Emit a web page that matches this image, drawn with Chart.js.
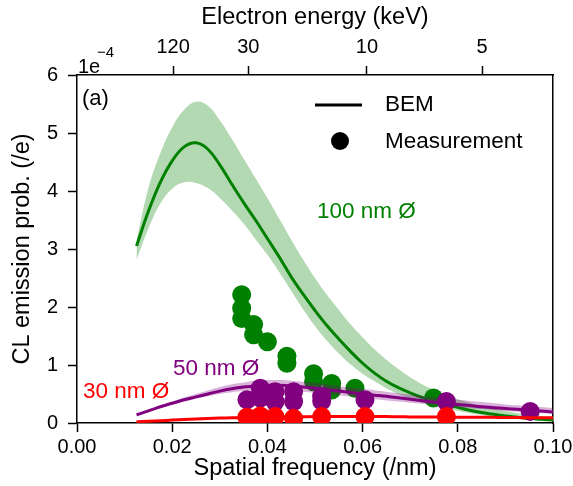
<!DOCTYPE html>
<html>
<head>
<meta charset="utf-8">
<script src="https://cdn.jsdelivr.net/npm/chart.js@4.4.1/dist/chart.umd.min.js"></script>
<style>
  html, body { margin: 0; padding: 0; background: #fff; }
</style>
</head>
<body>
<canvas id="chartCL" width="573" height="486"></canvas>
<script>
// spatial frequency grid of the BEM curves (/nm)
const bemFreq = [0.0125, 0.015, 0.0175, 0.02, 0.0225, 0.025, 0.0275, 0.03, 0.0325, 0.035, 0.0375, 0.04,
  0.0425, 0.045, 0.0475, 0.05, 0.0525, 0.055, 0.0575, 0.06, 0.0625, 0.065, 0.0675, 0.07,
  0.0725, 0.075, 0.0775, 0.08, 0.0825, 0.085, 0.0875, 0.09, 0.0925, 0.095, 0.0975, 0.1];

// BEM, 100 nm (x 1e-4)
const bem100 = [3.05, 3.65, 4.15, 4.52, 4.76, 4.83, 4.72, 4.45, 4.12, 3.8, 3.5, 3.18,
  2.86, 2.52, 2.22, 1.94, 1.68, 1.45, 1.23, 1.03, 0.86, 0.72, 0.61, 0.52,
  0.44, 0.38, 0.32, 0.27, 0.22, 0.18, 0.15, 0.12, 0.1, 0.08, 0.065, 0.05];
const bem100Hi = [3.15, 4.05, 4.65, 5.1, 5.4, 5.54, 5.47, 5.22, 4.9, 4.56, 4.22, 3.88,
  3.52, 3.16, 2.82, 2.5, 2.21, 1.95, 1.7, 1.48, 1.27, 1.09, 0.93, 0.79,
  0.67, 0.57, 0.48, 0.41, 0.35, 0.29, 0.25, 0.21, 0.17, 0.15, 0.12, 0.1];
const bem100Lo = [2.81, 3.35, 3.78, 4.04, 4.15, 4.14, 4.05, 3.88, 3.67, 3.44, 3.17, 2.9,
  2.6, 2.28, 1.96, 1.67, 1.42, 1.2, 1.01, 0.85, 0.72, 0.6, 0.5, 0.42,
  0.35, 0.3, 0.25, 0.21, 0.17, 0.14, 0.11, 0.09, 0.075, 0.06, 0.05, 0.04];

// BEM, 50 nm
const bem50 = [0.14, 0.21, 0.28, 0.34, 0.4, 0.45, 0.5, 0.55, 0.59, 0.62, 0.64, 0.65,
  0.65, 0.64, 0.62, 0.6, 0.575, 0.55, 0.525, 0.5, 0.48, 0.46, 0.435, 0.41,
  0.385, 0.36, 0.34, 0.32, 0.3, 0.28, 0.265, 0.25, 0.235, 0.22, 0.205, 0.19];
const bem50Hi = [0.14, 0.22, 0.3, 0.37, 0.44, 0.5, 0.56, 0.62, 0.67, 0.7, 0.73, 0.74,
  0.74, 0.73, 0.71, 0.69, 0.665, 0.64, 0.615, 0.59, 0.565, 0.54, 0.515, 0.49,
  0.465, 0.44, 0.42, 0.4, 0.38, 0.36, 0.34, 0.32, 0.305, 0.29, 0.275, 0.26];
const bem50Lo = [0.14, 0.2, 0.26, 0.32, 0.37, 0.42, 0.46, 0.5, 0.53, 0.55, 0.565, 0.57,
  0.57, 0.56, 0.54, 0.52, 0.5, 0.48, 0.455, 0.43, 0.41, 0.39, 0.37, 0.35,
  0.33, 0.31, 0.29, 0.27, 0.255, 0.24, 0.225, 0.21, 0.195, 0.18, 0.17, 0.16];

// BEM, 30 nm
const bem30 = [0.02, 0.03, 0.04, 0.05, 0.06, 0.07, 0.078, 0.085, 0.09, 0.095, 0.098, 0.1,
  0.103, 0.105, 0.108, 0.11, 0.11, 0.11, 0.11, 0.11, 0.11, 0.11, 0.108, 0.105,
  0.105, 0.105, 0.102, 0.1, 0.1, 0.1, 0.098, 0.095, 0.093, 0.09, 0.09, 0.09];
const bem30Hi = [0.03, 0.04, 0.05, 0.062, 0.074, 0.085, 0.094, 0.1, 0.105, 0.11, 0.113, 0.116,
  0.118, 0.12, 0.123, 0.125, 0.125, 0.125, 0.125, 0.125, 0.125, 0.125, 0.123, 0.12,
  0.12, 0.12, 0.117, 0.115, 0.115, 0.115, 0.113, 0.11, 0.108, 0.105, 0.105, 0.105];
const bem30Lo = [0.01, 0.02, 0.03, 0.04, 0.048, 0.056, 0.064, 0.07, 0.075, 0.08, 0.083, 0.085,
  0.088, 0.09, 0.093, 0.095, 0.095, 0.095, 0.095, 0.095, 0.095, 0.095, 0.093, 0.09,
  0.09, 0.09, 0.087, 0.085, 0.085, 0.085, 0.083, 0.08, 0.078, 0.075, 0.075, 0.075];

// measurements
const meas100X = [0.0346, 0.0346, 0.0346, 0.0371, 0.0371, 0.04, 0.0441, 0.0441, 0.0497, 0.0497, 0.0535, 0.0535, 0.0584, 0.0749];
const meas100Y = [2.21, 1.98, 1.8, 1.7, 1.52, 1.4, 1.15, 1.03, 0.85, 0.71, 0.68, 0.57, 0.6, 0.43];
const meas50X = [0.0357, 0.0385, 0.0385, 0.0416, 0.0416, 0.0455, 0.0455, 0.0514, 0.0514, 0.0605, 0.0776, 0.0952];
const meas50Y = [0.4, 0.6, 0.43, 0.54, 0.37, 0.54, 0.37, 0.46, 0.38, 0.4, 0.37, 0.2];
const meas30X = [0.0357, 0.0385, 0.0416, 0.0455, 0.0514, 0.0605, 0.0776];
const meas30Y = [0.1, 0.12, 0.11, 0.08, 0.11, 0.11, 0.11];

// axis ticks
const freqTicks = [0, 0.02, 0.04, 0.06, 0.08, 0.1];
const probTicks = [0, 1, 2, 3, 4, 5, 6];
const energyLabels = ["120", "30", "10", "5"];
const energyTickPos = [0.0202, 0.036, 0.0609, 0.0851];

const GREEN = "#008000";
const PURPLE = "#800080";
const RED = "#ff0000";
const FONT = "'Liberation Sans', Arial, sans-serif";

const pts = (xs, ys) => xs.map((x, i) => ({ x: x, y: ys[i] }));

function band(hi, lo, rgba, order) {
  return [
    { type: "line", data: pts(bemFreq, hi), borderWidth: 0, pointRadius: 0,
      tension: 0.4, fill: "+1", backgroundColor: rgba, order: order },
    { type: "line", data: pts(bemFreq, lo), borderWidth: 0, pointRadius: 0,
      tension: 0.4, fill: false, order: order },
  ];
}
function curve(vals, color, order) {
  return { type: "line", data: pts(bemFreq, vals), borderColor: color, borderWidth: 3,
    pointRadius: 0, tension: 0.4, fill: false, order: order };
}
function dots(xs, ys, color, order) {
  return { type: "scatter", data: pts(xs, ys), backgroundColor: color, borderWidth: 0,
    pointRadius: 9.5, pointHoverRadius: 9.5, order: order };
}

const datasets = [
  ...band(bem100Hi, bem100Lo, "rgba(0,128,0,0.3)", 12),
  curve(bem100, GREEN, 11),
  dots(meas100X, meas100Y, GREEN, 10),
  ...band(bem50Hi, bem50Lo, "rgba(128,0,128,0.3)", 9),
  curve(bem50, PURPLE, 8),
  dots(meas50X, meas50Y, PURPLE, 7),
  ...band(bem30Hi, bem30Lo, "rgba(255,0,0,0.3)", 6),
  curve(bem30, RED, 5),
  dots(meas30X, meas30Y, RED, 4),
];

/* ==================== TEXT / LEGEND ==================== */
const annotations = {
  id: "annotations",
  afterDraw(chart) {
    const ctx = chart.ctx;
    ctx.save();
    ctx.textBaseline = "middle";
    ctx.textAlign = "left";

    ctx.fillStyle = "#000";
    ctx.font = `22px ${FONT}`;
    ctx.fillText("(a)", 82, 99);

    // legend
    ctx.strokeStyle = "#000";
    ctx.lineWidth = 3;
    ctx.beginPath();
    ctx.moveTo(315, 105);
    ctx.lineTo(362, 105);
    ctx.stroke();
    ctx.beginPath();
    ctx.arc(340, 141, 9, 0, Math.PI * 2);
    ctx.fill();
    ctx.font = `22.5px ${FONT}`;
    ctx.fillText("BEM", 385, 105);
    ctx.fillText("Measurement", 385, 142);

    ctx.fillStyle = GREEN;
    ctx.fillText("100 nm Ø", 317, 212);
    ctx.fillStyle = PURPLE;
    ctx.fillText("50 nm Ø", 173, 369);
    ctx.fillStyle = RED;
    ctx.fillText("30 nm Ø", 83, 392);

    // offset text
    ctx.fillStyle = "#000";
    ctx.textBaseline = "alphabetic";
    ctx.font = `20px ${FONT}`;
    ctx.fillText("1e", 78, 73);
    ctx.font = `15px ${FONT}`;
    ctx.fillText("\u22124", 97, 57);
    ctx.restore();
  },
};

const axisGrid = {
  display: true,
  drawOnChartArea: false,
  drawTicks: true,
  tickLength: 9,
  tickWidth: 1.5,
  tickColor: "#000",
};
const axisBorder = { display: true, color: "#000", width: 1.5 };
const noSidePadding = (s) => { s.paddingLeft = 0; s.paddingRight = 0; };

new Chart(document.getElementById("chartCL"), {
  type: "scatter",
  data: { datasets: datasets },
  plugins: [annotations],
  options: {
    responsive: false,
    animation: false,
    devicePixelRatio: 1,
    layout: { padding: { left: 0, right: 20, top: 0, bottom: 0 } },
    plugins: { legend: { display: false }, tooltip: { enabled: false } },
    scales: {
      x: {
        type: "linear",
        position: "bottom",
        min: 0,
        max: 0.1,
        afterBuildTicks: (s) => { s.ticks = freqTicks.map((v) => ({ value: v })); },
        afterFit: (s) => { s.height = 63; noSidePadding(s); },
        ticks: {
          autoSkip: false,
          maxRotation: 0,
          padding: 3,
          color: "#000",
          font: { family: FONT, size: 20 },
          callback: (v) => v.toFixed(2),
        },
        grid: axisGrid,
        border: axisBorder,
        title: {
          display: true,
          text: "Spatial frequency (/nm)",
          color: "#000",
          font: { family: FONT, size: 23.5 },
          padding: { top: 0, bottom: 3 },
        },
      },
      xTop: {
        type: "linear",
        position: "top",
        min: 0,
        max: 0.1,
        afterBuildTicks: (s) => { s.ticks = energyTickPos.map((v) => ({ value: v })); },
        afterFit: (s) => { s.height = 75; noSidePadding(s); },
        ticks: {
          autoSkip: false,
          maxRotation: 0,
          padding: 7,
          color: "#000",
          font: { family: FONT, size: 20 },
          callback: (v, i) => energyLabels[i],
        },
        grid: axisGrid,
        border: axisBorder,
        title: {
          display: true,
          text: "Electron energy (keV)",
          color: "#000",
          font: { family: FONT, size: 23.5 },
          padding: { top: 3, bottom: 0 },
        },
      },
      y: {
        type: "linear",
        position: "left",
        min: 0,
        max: 6,
        afterBuildTicks: (s) => { s.ticks = probTicks.map((v) => ({ value: v })); },
        afterFit: (s) => { s.width = 77; },
        ticks: {
          padding: 10,
          color: "#000",
          font: { family: FONT, size: 20 },
        },
        grid: axisGrid,
        border: axisBorder,
        title: {
          display: true,
          text: "CL emission prob. (/e)",
          color: "#000",
          font: { family: FONT, size: 23.5 },
          padding: { top: 8, bottom: 0 },
        },
      },
      yRight: {
        type: "linear",
        position: "right",
        min: 0,
        max: 6,
        afterFit: (s) => { s.width = 0; },
        ticks: { display: false },
        grid: { display: false, drawTicks: false },
        border: axisBorder,
      },
    },
  },
});
</script>
</body>
</html>
